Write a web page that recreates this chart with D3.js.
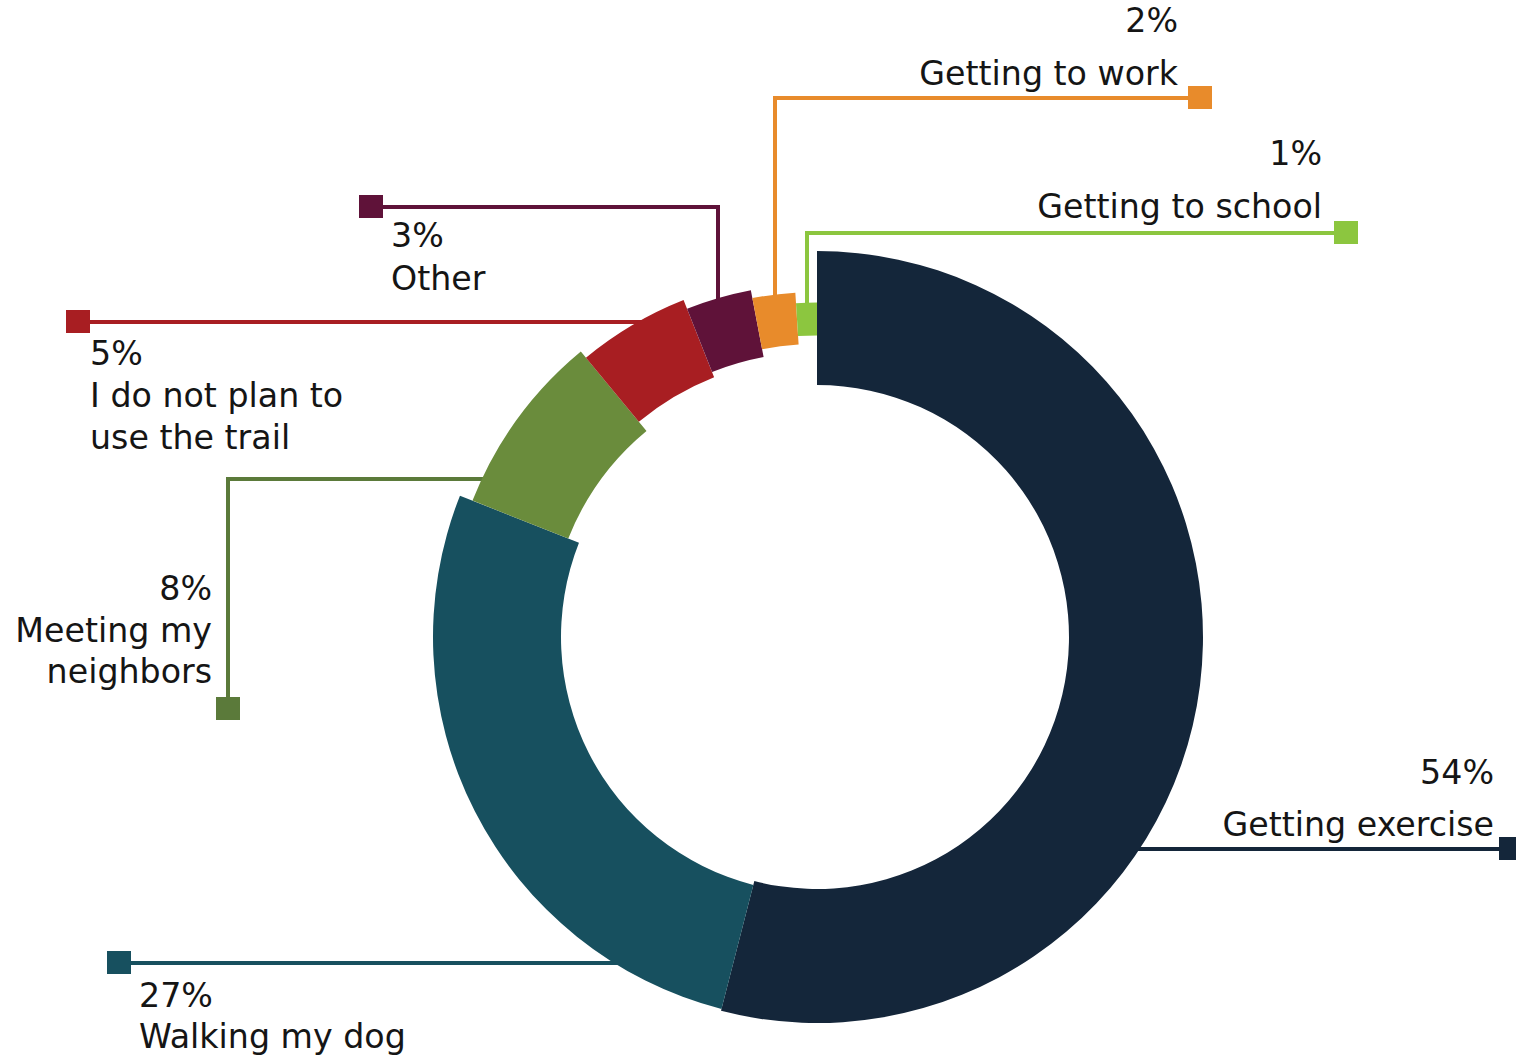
<!DOCTYPE html>
<html>
<head>
<meta charset="utf-8">
<script src="https://cdn.jsdelivr.net/npm/d3@7"></script>
<style>
  html, body { margin: 0; padding: 0; background: #ffffff; }
  svg { display: block; }
  text { font-family: "DejaVu Sans", "Noto Sans", sans-serif; fill: #151515; }
</style>
</head>
<body>
<svg id="chart" width="1516" height="1055"></svg>
<script>
// ---- data ----
const categories = ["Getting exercise", "Walking my dog", "Meeting my neighbors",
  "I do not plan to use the trail", "Other", "Getting to work", "Getting to school"];
const values = [54, 27, 8, 5, 3, 2, 1];
const labelLines = [["Getting exercise"], ["Walking my dog"], ["Meeting my", "neighbors"],
  ["I do not plan to", "use the trail"], ["Other"], ["Getting to work"], ["Getting to school"]];

// ---- style ----
const colors = ["#14263a", "#17505f", "#6a8c3c", "#a81e22", "#5f1239", "#e88b2b", "#8cc63f"];
const lineColors = ["#14263a", "#17505f", "#5b7a3a", "#a81e22", "#5f1239", "#e88b2b", "#8cc63f"];
const thickness = [134, 128, 103, 83, 68, 52, 33];
const rMids = [319, 320, 319, 321, 319, 319, 318];
const cx = 817, cy = 637;

// ---- label layout (annotation placement) ----
const layout = [
  { type: "h", y: 849, sqx: 1511, anchor: "end",   tx: 1494, ty: 784, pctGap: 52, gap: 42 },
  { type: "h", y: 963, sqx: 119,  anchor: "start", tx: 139,  ty: 1007, pctGap: 41, gap: 42 },
  { type: "e", y: 479, x2: 228, sqy: 709, anchor: "end", tx: 212, ty: 600, pctGap: 42, gap: 41 },
  { type: "h", y: 322, sqx: 78,   anchor: "start", tx: 90,   ty: 365, pctGap: 42, gap: 42 },
  { type: "v", x: 718, y: 207, sqx: 371, anchor: "start", tx: 391, ty: 247, pctGap: 43, gap: 42 },
  { type: "v", x: 775, y: 98,  sqx: 1200, anchor: "end", tx: 1178, ty: 32,  pctGap: 53, gap: 42 },
  { type: "v", x: 807, y: 233, sqx: 1346, anchor: "end", tx: 1322, ty: 165, pctGap: 53, gap: 42 }
];

const svg = d3.select("#chart");

// font-size fit so label widths match the reference
const probe = svg.append("text").attr("font-size", 100).text("Getting to school");
const w100 = probe.node().getComputedTextLength();
probe.remove();
const fontSize = 100 * 285 / w100;

const pie = d3.pie().sort(null).value(d => d).startAngle(0).endAngle(2 * Math.PI);
const arcsData = pie(values);

const gLines = svg.append("g");
const gArcs = svg.append("g").attr("transform", `translate(${cx},${cy})`);
const gText = svg.append("g");

arcsData.forEach((a, i) => {
  const L = layout[i];
  const rOut = rMids[i] + thickness[i] / 2 - 8;
  let pts;
  if (L.type === "h" || L.type === "e") {
    const dy = L.y - cy;
    const dx = Math.sqrt(Math.max(0, rOut * rOut - dy * dy));
    const mid = (a.startAngle + a.endAngle) / 2;
    const side = Math.sin(mid) >= 0 ? 1 : -1;
    const x0 = cx + side * dx;
    if (L.type === "h") pts = [[x0, L.y], [L.sqx, L.y]];
    else pts = [[x0, L.y], [L.x2, L.y], [L.x2, L.sqy]];
  } else {
    const dx = L.x - cx;
    const y0 = cy - Math.sqrt(Math.max(0, rOut * rOut - dx * dx));
    pts = [[L.x, y0], [L.x, L.y], [L.sqx, L.y]];
  }
  gLines.append("path")
    .attr("d", d3.line()(pts))
    .attr("fill", "none")
    .attr("stroke", lineColors[i])
    .attr("stroke-width", 4);
  const end = pts[pts.length - 1];
  gLines.append("rect")
    .attr("x", end[0] - 12).attr("y", end[1] - 12)
    .attr("width", 24).attr("height", 23)
    .attr("fill", lineColors[i]);

  const t = gText.append("text")
    .attr("text-anchor", L.anchor)
    .attr("font-size", fontSize);
  t.append("tspan").attr("x", L.tx).attr("y", L.ty).text(values[i] + "%");
  labelLines[i].forEach((ln, k) => {
    t.append("tspan").attr("x", L.tx).attr("y", L.ty + L.pctGap + k * L.gap).text(ln);
  });
});

gArcs.selectAll("path")
  .data(arcsData)
  .join("path")
  .attr("d", (d, i) => d3.arc()
    .innerRadius(rMids[i] - thickness[i] / 2)
    .outerRadius(rMids[i] + thickness[i] / 2)(d))
  .attr("fill", (d, i) => colors[i]);
</script>
</body>
</html>
